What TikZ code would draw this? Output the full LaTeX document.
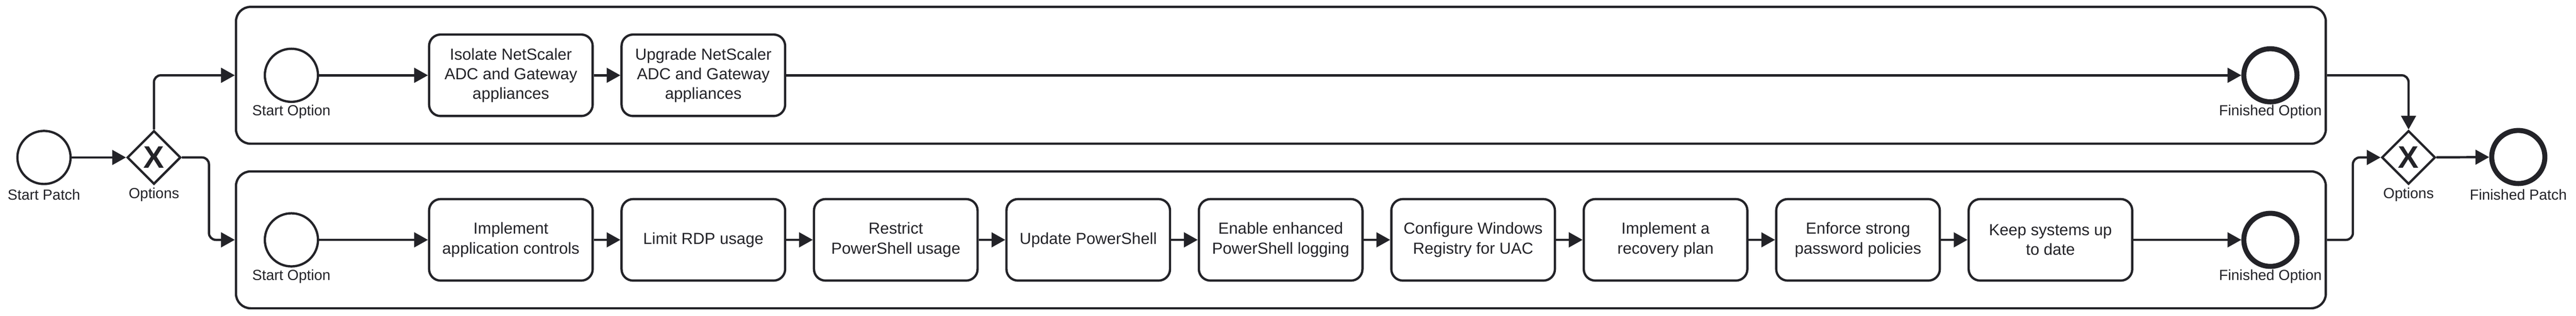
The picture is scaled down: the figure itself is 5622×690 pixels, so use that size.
\documentclass[tikz,border=0pt]{standalone}
\usepackage{fontspec}
\setmainfont{Liberation Sans}
\usetikzlibrary{arrows.meta,shapes.geometric}

\tikzset{every picture/.style={line width=5pt}}
\tikzset{
  ink/.style={color={rgb, 255:red, 35; green, 35; blue, 40 }},
  flow/.style={ink, line width=5pt, -{Triangle[length=30pt,width=32pt]}},
  plainflow/.style={ink, line width=5pt},
  startevent/.style={ink, draw, circle, minimum size=116pt, inner sep=0pt, line width=5pt},
  endevent/.style={ink, draw, circle, minimum size=116pt, inner sep=0pt, line width=11pt},
  xorgate/.style={ink, draw, diamond, minimum width=117pt, minimum height=117pt, inner sep=0pt, line width=5pt, font=\fontsize{68}{68}\selectfont\bfseries},
  taskbox/.style={ink, draw, rounded corners=25pt, minimum width=357pt, minimum height=178pt, align=center, inner sep=0pt, line width=5pt, font=\fontsize{35}{43}\selectfont},
  lanebox/.style={ink, draw, rounded corners=32pt, minimum width=4561pt, minimum height=299pt, inner sep=0pt, line width=5pt},
  evlabel/.style={ink, inner sep=0.75pt, font=\fontsize{32}{38}\selectfont},
}

\begin{document}
\begin{tikzpicture}[x=1pt,y=1pt,yscale=-1,xscale=1]
\fill[white] (0,0) rectangle (5622,690);
\useasboundingbox (0,0) rectangle (5622,690);

%Shape: Lanes
\node [lanebox] (lane1) at (2795.5,164.5) {};
\node [lanebox] (lane2) at (2795.5,524) {};

%Shape: Circle + Diamond
\node [startevent] (startpatch) at (96,344) {};
\node [xorgate] (gwsplit) at (336,344) {X};
\node [xorgate] (gwjoin) at (5256.5,344) {X};
\node [endevent] (endpatch) at (5496,343) {};

%Shape: Circle (options)
\node [startevent] (startopt1) at (636,164.5) {};
\node [startevent] (startopt2) at (636,524) {};
\node [endevent] (endopt1) at (4955,164.5) {};
\node [endevent] (endopt2) at (4955,524) {};

%Shape: Rectangle (upper lane)
\node [taskbox] (isolate) at (1115,164.5) {Isolate NetScaler\\ADC and Gateway\\appliances};
\node [taskbox] (upgrade) at (1535,164.5) {Upgrade NetScaler\\ADC and Gateway\\appliances};

%Shape: Rectangle (lower lane)
\node [taskbox] (appctrl) at (1115,524) {Implement\\application controls};
\node [taskbox] (rdp) at (1535,524) {Limit RDP usage};
\node [taskbox] (psrestrict) at (1955,524) {Restrict\\PowerShell usage};
\node [taskbox] (psupdate) at (2375,524) {Update PowerShell};
\node [taskbox] (pslogging) at (2795,524) {Enable enhanced\\PowerShell logging};
\node [taskbox] (registry) at (3215,524) {Configure Windows\\Registry for UAC};
\node [taskbox] (recovery) at (3635,524) {Implement a\\recovery plan};
\node [taskbox] (password) at (4055,524) {Enforce strong\\password policies};
\node [taskbox] (uptodate) at (4475,524) {Keep systems up\\to date};

% Text Node
\node [evlabel] (lblstartpatch) at (96,425) {Start Patch};
\node [evlabel] (lblsplit) at (336,425) {Options};
\node [evlabel] (lblstartopt1) at (636,244) {Start Option};
\node [evlabel] (lblstartopt2) at (636,604) {Start Option};
\node [evlabel] (lblendopt1) at (4955,244) {Finished Option};
\node [evlabel] (lblendopt2) at (4955,604) {Finished Option};
\node [evlabel] (lbljoin) at (5256.5,425) {Options};
\node [evlabel] (lblendpatch) at (5496,425) {Finished Patch};

%Straight Lines
\coordinate (splitbend) at (456,344);
\coordinate (joinbend) at (5135,524);
\draw [flow] (startpatch) -- (gwsplit);
\draw [flow, rounded corners=15pt] (gwsplit.north) |- (lane1.west);
\draw [flow, rounded corners=15pt] (gwsplit.east) -- (splitbend) |- (lane2.west);
\draw [flow] (startopt1) -- (isolate);
\draw [flow] (isolate) -- (upgrade);
\draw [flow] (upgrade) -- (endopt1);
\draw [flow] (startopt2) -- (appctrl);
\draw [flow] (appctrl) -- (rdp);
\draw [flow] (rdp) -- (psrestrict);
\draw [flow] (psrestrict) -- (psupdate);
\draw [flow] (psupdate) -- (pslogging);
\draw [flow] (pslogging) -- (registry);
\draw [flow] (registry) -- (recovery);
\draw [flow] (recovery) -- (password);
\draw [flow] (password) -- (uptodate);
\draw [flow] (uptodate) -- (endopt2);
\draw [flow, rounded corners=15pt] (lane1.east) -| (gwjoin.north);
\draw [flow, rounded corners=15pt] (lane2.east) -- (joinbend) |- (gwjoin.west);
\draw [flow] (gwjoin) -- (endpatch);

\end{tikzpicture}
\end{document}
